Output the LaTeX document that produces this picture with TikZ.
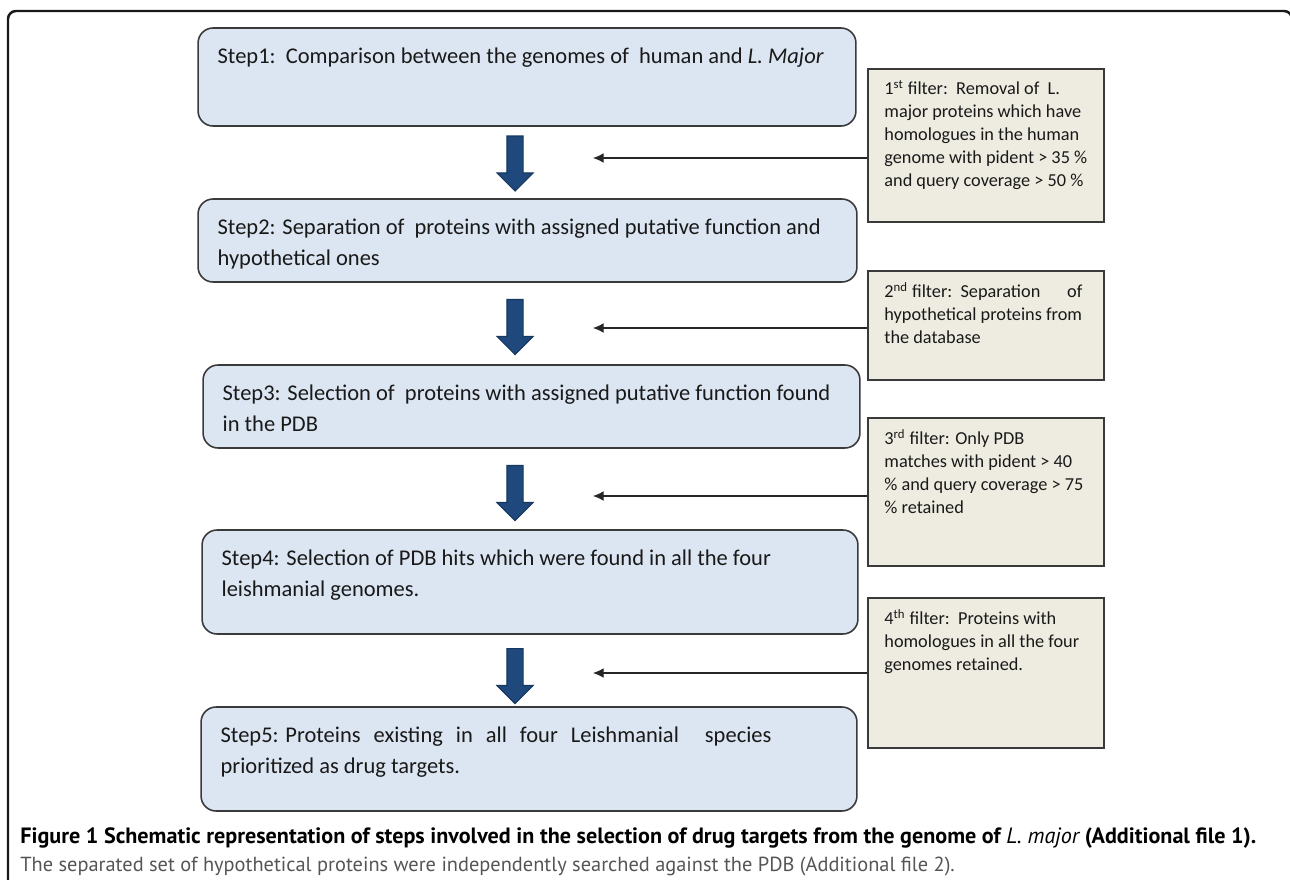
\documentclass[tikz,border=0pt]{standalone}
\usepackage{fontspec}
\setmainfont{Carlito}
\newfontfamily\capfont{PT Sans}
\usetikzlibrary{arrows.meta, positioning, shapes.arrows}
\definecolor{stepblue}{HTML}{DCE6F2}
\definecolor{filtertan}{HTML}{EEECE1}
\definecolor{arrowblue}{HTML}{1F497D}
\definecolor{arrowedge}{HTML}{17375E}
\definecolor{edgegray}{HTML}{3A3A3A}
\definecolor{captiongray}{HTML}{555555}

\begin{document}
\begin{tikzpicture}[x=0.02cm, y=-0.02cm,
        stepbox/.style={
            rectangle,
            rounded corners=0.3cm,
            fill=stepblue,
            draw=edgegray,
            line width=0.9pt
        },
        steptext/.style={
            anchor=north west,
            inner sep=0pt,
            align=left,
            text=black!90,
            font=\fontsize{12.8}{17.6}\selectfont
        },
        filterbox/.style={
            rectangle,
            fill=filtertan,
            draw=edgegray,
            line width=1.1pt,
            minimum width=4.72cm
        },
        filtertext/.style={
            anchor=north west,
            inner sep=0pt,
            align=left,
            text=black!90,
            font=\fontsize{10.4}{13}\selectfont
        },
        blockarrow/.style={
            single arrow,
            draw=arrowedge,
            fill=arrowblue,
            line width=0.6pt,
            inner xsep=0pt,
            inner ysep=0.15cm,
            minimum height=1.1cm,
            single arrow head extend=0.2cm,
            rotate=-90
        },
        filterlink/.style={
            -{Latex[length=6pt, width=5.5pt]},
            line width=0.6pt,
            draw=black!85
        },
        frame/.style={
            line width=1.4pt,
            draw=black!90,
            rounded corners=0.16cm
        }
    ]
    \useasboundingbox (0,0) rectangle (1290,879);
    \draw[frame] (8,900) -- (8,11) -- (1292,11) -- (1292,900);

    % steps
    \node[stepbox, minimum width=13.16cm, minimum height=1.96cm] (s1) at (527,77) {};
    \node[stepbox, minimum width=13.18cm, minimum height=1.66cm] (s2) at (527.5,240.5) {};
    \node[stepbox, minimum width=13.14cm, minimum height=1.66cm] (s3) at (531.5,406.5) {};
    \node[stepbox, minimum width=13.12cm, minimum height=2.08cm] (s4) at (530,582) {};
    \node[stepbox, minimum width=13.12cm, minimum height=2.08cm] (s5) at (529,759) {};

    \node[steptext] (s1txt) at ([shift={(20,20)}]s1.north west)
        {Step1:\ \ Comparison between the genomes of\ \ human and \textit{L. Major}};
    \node[steptext] (s2txt) at ([shift={(20,20)}]s2.north west)
        {Step2: Separation of\ \ proteins with assigned putative function and\\hypothetical ones};
    \node[steptext] (s3txt) at ([shift={(20,20)}]s3.north west)
        {Step3: Selection of\ \ proteins with assigned putative function found\\in the PDB};
    \node[steptext] (s4txt) at ([shift={(20,20)}]s4.north west)
        {Step4: Selection of PDB hits which were found in all the four\\leishmanial genomes.};
    \node[steptext] (s5txt) at ([shift={(20,20)}]s5.north west)
        {\makebox[11.02cm][l]{Step5: Proteins\hfill existing\hfill in\hfill all\hfill four\hfill Leishmanial\hfill\hfill species}\\prioritized as drug targets.};

    % filters
    \node[filterbox, minimum height=3.06cm] (f1) at (986,145.5) {};
    \node[filterbox, minimum height=2.18cm] (f2) at (986,325.5) {};
    \node[filterbox, minimum height=2.96cm] (f3) at (986,492) {};
    \node[filterbox, minimum height=3.0cm] (f4) at (986,673) {};

    \node[filtertext] (f1txt) at ([shift={(17,12)}]f1.north west)
        {1\textsuperscript{st} filter:\ \ Removal of\ \ L.\\major proteins which have\\homologues in the human\\genome with pident > 35 \%\\and query coverage > 50 \%};
    \node[filtertext] (f2txt) at ([shift={(17,12)}]f2.north west)
        {\makebox[3.96cm][s]{2\textsuperscript{nd} filter:\ \ Separation\hfill of}\\hypothetical proteins from\\the database};
    \node[filtertext] (f3txt) at ([shift={(17,12)}]f3.north west)
        {3\textsuperscript{rd} filter: Only PDB\\matches with pident > 40\\\% and query coverage > 75\\\% retained};
    \node[filtertext] (f4txt) at ([shift={(17,12)}]f4.north west)
        {4\textsuperscript{th} filter:\ \ Proteins with\\homologues in all the four\\genomes retained.};

    % arrows
    \node[blockarrow] (a1) at (515,159.5) {};
    \node[blockarrow] (a2) at (515,323) {};
    \node[blockarrow] (a3) at (515,489) {};
    \node[blockarrow] (a4) at (515,672) {};

    \coordinate (t1) at (593,158);
    \coordinate (t2) at (593,328);
    \coordinate (t3) at (593,496);
    \coordinate (t4) at (593,673);
    \draw[filterlink] (f1.west |- t1) -- (t1);
    \draw[filterlink] (f2.west |- t2) -- (t2);
    \draw[filterlink] (f3.west |- t3) -- (t3);
    \draw[filterlink] (f4.west |- t4) -- (t4);

    % caption
    \node[anchor=west, inner sep=0pt, font=\capfont\fontsize{12.6}{14}\selectfont\bfseries] (cap1) at (20,838)
        {Figure 1 Schematic representation of steps involved in the selection of drug targets from the genome of {\mdseries\itshape L. major} (Additional file 1).};
    \node[anchor=west, inner sep=0pt, text=captiongray, font=\capfont\fontsize{11.6}{14}\selectfont] (cap2) at (20,866)
        {The separated set of hypothetical proteins were independently searched against the PDB (Additional file 2).};
\end{tikzpicture}
\end{document}
